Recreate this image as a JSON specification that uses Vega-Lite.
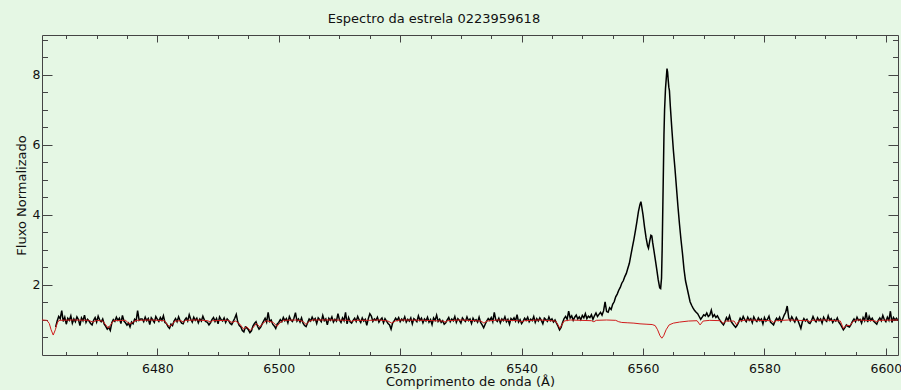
{
  "$schema": "https://vega.github.io/schema/vega-lite/v6.json",
  "width": 856,
  "height": 320,
  "autosize": {"type": "none"},
  "padding": {"left": 42, "top": 35, "right": 3, "bottom": 35},
  "background": "#e5f7e4",
  "title": {"text": "Espectro da estrela 0223959618", "font": "DejaVu Sans", "fontSize": 13, "fontWeight": "normal", "color": "#111111", "offset": 9, "dx": -36},
  "config": {"view": {"stroke": "#444444", "strokeWidth": 1, "fill": "#e5f7e4"}},
  "datasets": {
    "obs": [
      {"w":6463.25,"f":0.80},{"w":6463.5,"f":0.97},{"w":6463.75,"f":1.10},{"w":6464.0,"f":1.04},{"w":6464.25,"f":1.27},{"w":6464.5,"f":0.96},{"w":6464.75,"f":1.08},{"w":6465.0,"f":0.88},{"w":6465.25,"f":1.05},{"w":6465.5,"f":0.99},{"w":6465.75,"f":1.12},{"w":6466.0,"f":0.91},{"w":6466.25,"f":1.03},{"w":6466.5,"f":0.95},{"w":6466.75,"f":1.09},{"w":6467.0,"f":1.01},{"w":6467.25,"f":0.84},{"w":6467.5,"f":1.06},{"w":6467.75,"f":0.98},{"w":6468.0,"f":1.14},
      {"w":6468.25,"f":0.93},{"w":6468.5,"f":1.02},{"w":6468.75,"f":0.97},{"w":6469.0,"f":0.90},{"w":6469.25,"f":0.86},{"w":6469.5,"f":0.99},{"w":6469.75,"f":1.07},{"w":6470.0,"f":0.94},{"w":6470.25,"f":1.11},{"w":6470.5,"f":1.00},{"w":6470.75,"f":0.95},{"w":6471.0,"f":1.03},{"w":6471.25,"f":0.88},{"w":6471.5,"f":0.82},{"w":6471.75,"f":0.74},{"w":6472.0,"f":0.79},{"w":6472.25,"f":0.70},{"w":6472.5,"f":0.92},{"w":6472.75,"f":1.01},{"w":6473.0,"f":0.96},
      {"w":6473.25,"f":1.08},{"w":6473.5,"f":0.99},{"w":6473.75,"f":1.05},{"w":6474.0,"f":0.90},{"w":6474.25,"f":1.13},{"w":6474.5,"f":0.97},{"w":6474.75,"f":0.92},{"w":6475.0,"f":0.85},{"w":6475.25,"f":0.91},{"w":6475.5,"f":0.80},{"w":6475.75,"f":0.94},{"w":6476.0,"f":0.89},{"w":6476.25,"f":1.02},{"w":6476.5,"f":0.97},{"w":6476.75,"f":1.27},{"w":6477.0,"f":0.99},{"w":6477.25,"f":1.03},{"w":6477.5,"f":1.03},{"w":6477.75,"f":0.95},{"w":6478.0,"f":1.08},
      {"w":6478.25,"f":0.98},{"w":6478.5,"f":1.04},{"w":6478.75,"f":0.87},{"w":6479.0,"f":1.06},{"w":6479.25,"f":1.00},{"w":6479.5,"f":0.93},{"w":6479.75,"f":1.10},{"w":6480.0,"f":1.02},{"w":6480.25,"f":0.96},{"w":6480.5,"f":1.07},{"w":6480.75,"f":0.99},{"w":6481.0,"f":1.12},{"w":6481.25,"f":0.93},{"w":6481.5,"f":0.90},{"w":6481.75,"f":0.81},{"w":6482.0,"f":0.76},{"w":6482.25,"f":0.88},{"w":6482.5,"f":0.84},{"w":6482.75,"f":0.97},{"w":6483.0,"f":1.04},
      {"w":6483.25,"f":0.95},{"w":6483.5,"f":1.09},{"w":6483.75,"f":0.98},{"w":6484.0,"f":0.91},{"w":6484.25,"f":0.89},{"w":6484.5,"f":1.00},{"w":6484.75,"f":1.06},{"w":6485.0,"f":0.97},{"w":6485.25,"f":1.15},{"w":6485.5,"f":1.02},{"w":6485.75,"f":0.94},{"w":6486.0,"f":1.08},{"w":6486.25,"f":0.99},{"w":6486.5,"f":1.05},{"w":6486.75,"f":0.92},{"w":6487.0,"f":1.03},{"w":6487.25,"f":0.97},{"w":6487.5,"f":1.11},{"w":6487.75,"f":1.00},{"w":6488.0,"f":0.95},
      {"w":6488.25,"f":0.93},{"w":6488.5,"f":0.86},{"w":6488.75,"f":0.92},{"w":6489.0,"f":1.01},{"w":6489.25,"f":1.07},{"w":6489.5,"f":0.96},{"w":6489.75,"f":1.04},{"w":6490.0,"f":0.89},{"w":6490.25,"f":1.09},{"w":6490.5,"f":1.01},{"w":6490.75,"f":0.97},{"w":6491.0,"f":1.06},{"w":6491.25,"f":0.93},{"w":6491.5,"f":1.03},{"w":6491.75,"f":0.98},{"w":6492.0,"f":0.90},{"w":6492.25,"f":0.87},{"w":6492.5,"f":0.96},{"w":6492.75,"f":1.05},{"w":6493.0,"f":1.16},
      {"w":6493.25,"f":0.94},{"w":6493.5,"f":0.84},{"w":6493.75,"f":0.80},{"w":6494.0,"f":0.70},{"w":6494.25,"f":0.66},{"w":6494.5,"f":0.80},{"w":6494.75,"f":0.77},{"w":6495.0,"f":0.72},{"w":6495.25,"f":0.64},{"w":6495.5,"f":0.69},{"w":6495.75,"f":0.83},{"w":6496.0,"f":0.90},{"w":6496.25,"f":0.95},{"w":6496.5,"f":0.82},{"w":6496.75,"f":0.74},{"w":6497.0,"f":0.79},{"w":6497.25,"f":0.88},{"w":6497.5,"f":0.97},{"w":6497.75,"f":1.05},{"w":6498.0,"f":0.94},
      {"w":6498.25,"f":1.22},{"w":6498.5,"f":0.96},{"w":6498.75,"f":1.00},{"w":6499.0,"f":0.88},{"w":6499.25,"f":0.83},{"w":6499.5,"f":0.76},{"w":6499.75,"f":0.89},{"w":6500.0,"f":0.93},{"w":6500.25,"f":1.01},{"w":6500.5,"f":0.95},{"w":6500.75,"f":1.07},{"w":6501.0,"f":0.98},{"w":6501.25,"f":1.04},{"w":6501.5,"f":0.92},{"w":6501.75,"f":1.10},{"w":6502.0,"f":1.00},{"w":6502.25,"f":0.96},{"w":6502.5,"f":1.05},{"w":6502.75,"f":1.21},{"w":6503.0,"f":0.97},
      {"w":6503.25,"f":1.03},{"w":6503.5,"f":0.94},{"w":6503.75,"f":1.06},{"w":6504.0,"f":0.91},{"w":6504.25,"f":0.84},{"w":6504.5,"f":0.81},{"w":6504.75,"f":0.92},{"w":6505.0,"f":1.03},{"w":6505.25,"f":0.97},{"w":6505.5,"f":1.08},{"w":6505.75,"f":0.99},{"w":6506.0,"f":1.04},{"w":6506.25,"f":0.90},{"w":6506.5,"f":1.06},{"w":6506.75,"f":1.01},{"w":6507.0,"f":0.95},{"w":6507.25,"f":1.13},{"w":6507.5,"f":0.98},{"w":6507.75,"f":1.03},{"w":6508.0,"f":0.86},
      {"w":6508.25,"f":1.05},{"w":6508.5,"f":0.99},{"w":6508.75,"f":1.09},{"w":6509.0,"f":0.94},{"w":6509.25,"f":1.02},{"w":6509.5,"f":0.97},{"w":6509.75,"f":1.18},{"w":6510.0,"f":1.00},{"w":6510.25,"f":0.93},{"w":6510.5,"f":1.06},{"w":6510.75,"f":0.98},{"w":6511.0,"f":1.22},{"w":6511.25,"f":0.89},{"w":6511.5,"f":1.07},{"w":6511.75,"f":0.95},{"w":6512.0,"f":0.91},{"w":6512.25,"f":0.99},{"w":6512.5,"f":1.05},{"w":6512.75,"f":0.96},{"w":6513.0,"f":1.10},
      {"w":6513.25,"f":1.00},{"w":6513.5,"f":0.93},{"w":6513.75,"f":1.06},{"w":6514.0,"f":0.97},{"w":6514.25,"f":1.02},{"w":6514.5,"f":0.85},{"w":6514.75,"f":1.04},{"w":6515.0,"f":1.18},{"w":6515.25,"f":1.11},{"w":6515.5,"f":0.96},{"w":6515.75,"f":1.03},{"w":6516.0,"f":0.99},{"w":6516.25,"f":1.08},{"w":6516.5,"f":0.94},{"w":6516.75,"f":1.01},{"w":6517.0,"f":1.06},{"w":6517.25,"f":0.92},{"w":6517.5,"f":1.04},{"w":6517.75,"f":0.97},{"w":6518.0,"f":0.90},
      {"w":6518.25,"f":0.86},{"w":6518.5,"f":0.74},{"w":6518.75,"f":0.91},{"w":6519.0,"f":0.97},{"w":6519.25,"f":1.05},{"w":6519.5,"f":0.99},{"w":6519.75,"f":1.07},{"w":6520.0,"f":0.95},{"w":6520.25,"f":1.03},{"w":6520.5,"f":0.98},{"w":6520.75,"f":1.09},{"w":6521.0,"f":0.94},{"w":6521.25,"f":1.02},{"w":6521.5,"f":0.97},{"w":6521.75,"f":1.06},{"w":6522.0,"f":0.89},{"w":6522.25,"f":1.04},{"w":6522.5,"f":1.00},{"w":6522.75,"f":0.95},{"w":6523.0,"f":1.12},
      {"w":6523.25,"f":0.99},{"w":6523.5,"f":1.05},{"w":6523.75,"f":0.92},{"w":6524.0,"f":1.03},{"w":6524.25,"f":0.97},{"w":6524.5,"f":1.08},{"w":6524.75,"f":0.94},{"w":6525.0,"f":1.01},{"w":6525.25,"f":0.87},{"w":6525.5,"f":1.06},{"w":6525.75,"f":0.99},{"w":6526.0,"f":1.14},{"w":6526.25,"f":0.96},{"w":6526.5,"f":1.02},{"w":6526.75,"f":0.93},{"w":6527.0,"f":0.98},{"w":6527.25,"f":0.88},{"w":6527.5,"f":0.92},{"w":6527.75,"f":1.00},{"w":6528.0,"f":1.07},
      {"w":6528.25,"f":0.95},{"w":6528.5,"f":1.03},{"w":6528.75,"f":0.98},{"w":6529.0,"f":1.10},{"w":6529.25,"f":0.93},{"w":6529.5,"f":1.04},{"w":6529.75,"f":0.99},{"w":6530.0,"f":0.91},{"w":6530.25,"f":1.06},{"w":6530.5,"f":1.00},{"w":6530.75,"f":0.96},{"w":6531.0,"f":1.09},{"w":6531.25,"f":0.98},{"w":6531.5,"f":1.03},{"w":6531.75,"f":0.90},{"w":6532.0,"f":1.05},{"w":6532.25,"f":0.97},{"w":6532.5,"f":1.01},{"w":6532.75,"f":0.94},{"w":6533.0,"f":1.08},
      {"w":6533.25,"f":0.93},{"w":6533.5,"f":0.86},{"w":6533.75,"f":0.78},{"w":6534.0,"f":0.88},{"w":6534.25,"f":0.97},{"w":6534.5,"f":1.04},{"w":6534.75,"f":0.99},{"w":6535.0,"f":1.07},{"w":6535.25,"f":0.95},{"w":6535.5,"f":1.22},{"w":6535.75,"f":1.00},{"w":6536.0,"f":0.96},{"w":6536.25,"f":1.05},{"w":6536.5,"f":0.92},{"w":6536.75,"f":1.03},{"w":6537.0,"f":0.98},{"w":6537.25,"f":1.09},{"w":6537.5,"f":0.95},{"w":6537.75,"f":1.02},{"w":6538.0,"f":0.88},
      {"w":6538.25,"f":1.04},{"w":6538.5,"f":0.99},{"w":6538.75,"f":1.06},{"w":6539.0,"f":0.97},{"w":6539.25,"f":1.15},{"w":6539.5,"f":0.94},{"w":6539.75,"f":1.01},{"w":6540.0,"f":0.90},{"w":6540.25,"f":0.97},{"w":6540.5,"f":1.05},{"w":6540.75,"f":0.99},{"w":6541.0,"f":1.08},{"w":6541.25,"f":0.95},{"w":6541.5,"f":1.02},{"w":6541.75,"f":0.98},{"w":6542.0,"f":1.10},{"w":6542.25,"f":0.93},{"w":6542.5,"f":1.04},{"w":6542.75,"f":0.97},{"w":6543.0,"f":1.06},
      {"w":6543.25,"f":0.99},{"w":6543.5,"f":0.89},{"w":6543.75,"f":1.05},{"w":6544.0,"f":1.01},{"w":6544.25,"f":0.96},{"w":6544.5,"f":1.09},{"w":6544.75,"f":0.98},{"w":6545.0,"f":1.03},{"w":6545.25,"f":0.94},{"w":6545.5,"f":1.00},{"w":6545.75,"f":0.91},{"w":6546.0,"f":0.82},{"w":6546.25,"f":0.72},{"w":6546.5,"f":0.79},{"w":6546.75,"f":0.93},{"w":6547.0,"f":1.04},{"w":6547.25,"f":1.10},{"w":6547.5,"f":1.02},{"w":6547.75,"f":1.25},{"w":6548.0,"f":1.06},
      {"w":6548.25,"f":1.12},{"w":6548.5,"f":0.99},{"w":6548.75,"f":1.08},{"w":6549.0,"f":1.14},{"w":6549.25,"f":1.03},{"w":6549.5,"f":1.09},{"w":6549.75,"f":1.01},{"w":6550.0,"f":1.13},{"w":6550.25,"f":1.06},{"w":6550.5,"f":1.18},{"w":6550.75,"f":1.04},{"w":6551.0,"f":1.11},{"w":6551.25,"f":1.07},{"w":6551.5,"f":1.15},{"w":6551.75,"f":1.02},{"w":6552.0,"f":1.12},{"w":6552.25,"f":1.20},{"w":6552.5,"f":1.10},{"w":6552.75,"f":1.16},{"w":6553.0,"f":1.22},
      {"w":6553.25,"f":1.14},{"w":6553.5,"f":1.26},{"w":6553.75,"f":1.52},{"w":6554.0,"f":1.24},{"w":6554.25,"f":1.22},{"w":6554.5,"f":1.35},{"w":6554.75,"f":1.30},{"w":6555.0,"f":1.45},{"w":6555.25,"f":1.52},{"w":6555.5,"f":1.66},{"w":6555.75,"f":1.74},{"w":6556.0,"f":1.85},{"w":6556.25,"f":1.93},{"w":6556.5,"f":2.05},{"w":6556.75,"f":2.12},{"w":6557.0,"f":2.24},{"w":6557.25,"f":2.33},{"w":6557.5,"f":2.48},{"w":6557.75,"f":2.62},{"w":6558.0,"f":2.85},
      {"w":6558.25,"f":3.08},{"w":6558.5,"f":3.30},{"w":6558.75,"f":3.55},{"w":6559.0,"f":3.82},{"w":6559.25,"f":4.10},{"w":6559.5,"f":4.30},{"w":6559.65,"f":4.38},{"w":6559.75,"f":4.28},{"w":6560.0,"f":4.00},{"w":6560.25,"f":3.65},{"w":6560.5,"f":3.35},{"w":6560.75,"f":3.12},{"w":6560.9,"f":3.05},{"w":6561.1,"f":3.25},{"w":6561.3,"f":3.42},{"w":6561.45,"f":3.40},{"w":6561.6,"f":3.20},{"w":6561.8,"f":2.98},{"w":6562.0,"f":2.75},{"w":6562.25,"f":2.46},
      {"w":6562.5,"f":2.15},{"w":6562.75,"f":1.92},{"w":6562.9,"f":1.90},{"w":6563.05,"f":2.20},{"w":6563.15,"f":3.00},{"w":6563.25,"f":4.10},{"w":6563.35,"f":5.20},{"w":6563.45,"f":6.30},{"w":6563.55,"f":7.00},{"w":6563.7,"f":7.60},{"w":6563.85,"f":7.95},{"w":6563.95,"f":8.18},{"w":6564.05,"f":8.08},{"w":6564.15,"f":7.85},{"w":6564.25,"f":7.65},{"w":6564.35,"f":7.55},{"w":6564.5,"f":7.10},{"w":6564.75,"f":6.45},{"w":6565.0,"f":5.85},{"w":6565.25,"f":5.35},
      {"w":6565.5,"f":4.80},{"w":6565.75,"f":4.25},{"w":6566.0,"f":3.75},{"w":6566.25,"f":3.30},{"w":6566.5,"f":2.90},{"w":6566.75,"f":2.45},{"w":6567.0,"f":2.12},{"w":6567.25,"f":1.92},{"w":6567.5,"f":1.72},{"w":6567.75,"f":1.52},{"w":6568.0,"f":1.42},{"w":6568.25,"f":1.34},{"w":6568.5,"f":1.27},{"w":6568.75,"f":1.22},{"w":6569.0,"f":1.18},{"w":6569.25,"f":1.10},{"w":6569.5,"f":1.02},{"w":6569.75,"f":1.08},{"w":6570.0,"f":1.15},{"w":6570.25,"f":1.12},
      {"w":6570.5,"f":1.20},{"w":6570.75,"f":1.10},{"w":6571.0,"f":1.14},{"w":6571.25,"f":1.28},{"w":6571.5,"f":1.09},{"w":6571.75,"f":1.15},{"w":6572.0,"f":1.07},{"w":6572.25,"f":1.12},{"w":6572.5,"f":1.04},{"w":6572.75,"f":0.97},{"w":6573.0,"f":0.91},{"w":6573.25,"f":0.86},{"w":6573.5,"f":0.95},{"w":6573.75,"f":1.07},{"w":6574.0,"f":0.99},{"w":6574.25,"f":1.12},{"w":6574.5,"f":0.96},{"w":6574.75,"f":0.90},{"w":6575.0,"f":0.84},{"w":6575.25,"f":0.79},
      {"w":6575.5,"f":0.85},{"w":6575.75,"f":0.94},{"w":6576.0,"f":1.05},{"w":6576.25,"f":0.98},{"w":6576.5,"f":1.10},{"w":6576.75,"f":1.01},{"w":6577.0,"f":0.95},{"w":6577.25,"f":1.08},{"w":6577.5,"f":0.99},{"w":6577.75,"f":1.04},{"w":6578.0,"f":0.92},{"w":6578.25,"f":1.09},{"w":6578.5,"f":1.00},{"w":6578.75,"f":0.96},{"w":6579.0,"f":1.06},{"w":6579.25,"f":0.98},{"w":6579.5,"f":1.03},{"w":6579.75,"f":0.89},{"w":6580.0,"f":1.07},{"w":6580.25,"f":0.97},
      {"w":6580.5,"f":1.02},{"w":6580.75,"f":1.11},{"w":6581.0,"f":0.94},{"w":6581.25,"f":0.90},{"w":6581.5,"f":0.86},{"w":6581.75,"f":0.97},{"w":6582.0,"f":1.05},{"w":6582.25,"f":0.99},{"w":6582.5,"f":1.08},{"w":6582.75,"f":0.95},{"w":6583.0,"f":1.03},{"w":6583.25,"f":1.14},{"w":6583.5,"f":1.22},{"w":6583.75,"f":1.40},{"w":6584.0,"f":1.06},{"w":6584.25,"f":0.98},{"w":6584.5,"f":1.09},{"w":6584.75,"f":1.01},{"w":6585.0,"f":0.94},{"w":6585.25,"f":1.07},
      {"w":6585.5,"f":0.99},{"w":6585.75,"f":0.88},{"w":6586.0,"f":0.76},{"w":6586.25,"f":0.95},{"w":6586.5,"f":1.04},{"w":6586.75,"f":0.97},{"w":6587.0,"f":1.02},{"w":6587.25,"f":0.92},{"w":6587.5,"f":0.90},{"w":6587.75,"f":0.98},{"w":6588.0,"f":1.10},{"w":6588.25,"f":1.00},{"w":6588.5,"f":0.95},{"w":6588.75,"f":1.06},{"w":6589.0,"f":0.98},{"w":6589.25,"f":1.03},{"w":6589.5,"f":0.91},{"w":6589.75,"f":1.08},{"w":6590.0,"f":1.00},{"w":6590.25,"f":0.96},
      {"w":6590.5,"f":1.12},{"w":6590.75,"f":0.99},{"w":6591.0,"f":1.04},{"w":6591.25,"f":0.93},{"w":6591.5,"f":1.01},{"w":6591.75,"f":0.97},{"w":6592.0,"f":1.06},{"w":6592.25,"f":0.94},{"w":6592.5,"f":0.88},{"w":6592.75,"f":0.80},{"w":6593.0,"f":0.72},{"w":6593.25,"f":0.78},{"w":6593.5,"f":0.86},{"w":6593.75,"f":0.82},{"w":6594.0,"f":0.80},{"w":6594.25,"f":0.87},{"w":6594.5,"f":0.96},{"w":6594.75,"f":1.03},{"w":6595.0,"f":0.95},{"w":6595.25,"f":1.08},
      {"w":6595.5,"f":0.99},{"w":6595.75,"f":1.02},{"w":6596.0,"f":0.91},{"w":6596.25,"f":1.07},{"w":6596.5,"f":0.98},{"w":6596.75,"f":1.22},{"w":6597.0,"f":0.94},{"w":6597.25,"f":1.10},{"w":6597.5,"f":0.99},{"w":6597.75,"f":1.05},{"w":6598.0,"f":0.96},{"w":6598.25,"f":0.92},{"w":6598.5,"f":0.88},{"w":6598.75,"f":0.99},{"w":6599.0,"f":1.06},{"w":6599.25,"f":0.98},{"w":6599.5,"f":1.13},{"w":6599.75,"f":1.01},{"w":6600.0,"f":0.95},{"w":6600.25,"f":1.08},
      {"w":6600.5,"f":0.99},{"w":6600.75,"f":1.25},{"w":6601.0,"f":0.93},{"w":6601.25,"f":1.07},{"w":6601.5,"f":1.00},{"w":6601.75,"f":1.05},{"w":6602.0,"f":0.98}
    ],
    "model": [
      {"w":6461.0,"f":1.0},{"w":6461.8,"f":0.99},{"w":6462.2,"f":0.9},{"w":6462.5,"f":0.72},{"w":6462.85,"f":0.57},{"w":6463.2,"f":0.72},{"w":6463.5,"f":0.91},{"w":6463.8,"f":0.99},{"w":6466.0,"f":1.0},{"w":6468.7,"f":0.99},{"w":6469.35,"f":0.94},{"w":6470.0,"f":0.99},{"w":6471.0,"f":0.97},{"w":6471.5,"f":0.86},{"w":6471.9,"f":0.77},{"w":6472.3,"f":0.86},{"w":6472.8,"f":0.98},{"w":6474.8,"f":0.99},{"w":6475.1,"f":0.93},{"w":6475.5,"f":0.89},{"w":6475.9,"f":0.93},{"w":6476.5,"f":0.99},{"w":6479.0,"f":1.0},
      {"w":6481.2,"f":0.98},{"w":6481.6,"f":0.87},{"w":6482.0,"f":0.82},{"w":6482.4,"f":0.86},{"w":6482.9,"f":0.97},{"w":6483.9,"f":0.98},{"w":6484.3,"f":0.94},{"w":6484.7,"f":0.99},{"w":6486.5,"f":1.0},{"w":6488.3,"f":0.98},{"w":6488.7,"f":0.94},{"w":6489.1,"f":0.98},{"w":6491.6,"f":0.99},{"w":6492.3,"f":0.93},{"w":6492.9,"f":0.97},{"w":6493.6,"f":0.88},{"w":6494.2,"f":0.74},{"w":6494.7,"f":0.81},{"w":6495.3,"f":0.70},{"w":6495.8,"f":0.79},{"w":6496.3,"f":0.90},{"w":6496.9,"f":0.80},{"w":6497.4,"f":0.91},{"w":6498.0,"f":0.98},{"w":6499.1,"f":0.93},{"w":6499.7,"f":0.82},{"w":6500.2,"f":0.92},{"w":6500.8,"f":0.99},
      {"w":6503.0,"f":1.0},{"w":6504.0,"f":0.96},{"w":6504.5,"f":0.87},{"w":6505.0,"f":0.96},{"w":6505.6,"f":1.0},{"w":6509.0,"f":1.0},{"w":6511.6,"f":0.99},{"w":6512.0,"f":0.96},{"w":6512.4,"f":0.99},{"w":6515.0,"f":0.99},{"w":6516.5,"f":1.0},{"w":6518.0,"f":0.97},{"w":6518.6,"f":0.91},{"w":6519.2,"f":0.97},{"w":6520.0,"f":1.0},{"w":6524.0,"f":0.99},{"w":6527.0,"f":0.97},{"w":6527.4,"f":0.94},{"w":6527.8,"f":0.98},{"w":6530.0,"f":1.0},{"w":6533.3,"f":0.97},{"w":6533.8,"f":0.91},{"w":6534.3,"f":0.97},{"w":6536.0,"f":1.0},{"w":6539.5,"f":0.98},{"w":6540.0,"f":0.95},{"w":6540.5,"f":0.98},
      {"w":6543.0,"f":1.0},{"w":6545.6,"f":0.97},{"w":6546.0,"f":0.86},{"w":6546.3,"f":0.76},{"w":6546.6,"f":0.85},{"w":6547.0,"f":0.97},{"w":6548.0,"f":1.0},{"w":6551.5,"f":0.98},{"w":6551.9,"f":0.95},{"w":6552.3,"f":0.99},{"w":6554.0,"f":1.0},{"w":6555.5,"f":0.99},{"w":6556.0,"f":0.95},{"w":6556.5,"f":0.93},{"w":6557.5,"f":0.92},{"w":6558.5,"f":0.91},{"w":6559.5,"f":0.89},{"w":6560.5,"f":0.88},{"w":6561.5,"f":0.87},{"w":6562.0,"f":0.84},{"w":6562.4,"f":0.72},{"w":6562.8,"f":0.55},{"w":6563.1,"f":0.48},{"w":6563.4,"f":0.55},{"w":6563.8,"f":0.72},{"w":6564.3,"f":0.86},{"w":6565.0,"f":0.91},{"w":6566.0,"f":0.94},{"w":6567.5,"f":0.97},
      {"w":6568.9,"f":0.98},{"w":6569.4,"f":0.86},{"w":6569.9,"f":0.97},{"w":6571.0,"f":0.99},{"w":6572.8,"f":0.98},{"w":6573.2,"f":0.90},{"w":6573.6,"f":0.97},{"w":6575.0,"f":0.97},{"w":6575.4,"f":0.86},{"w":6575.8,"f":0.97},{"w":6577.0,"f":1.0},{"w":6581.1,"f":0.98},{"w":6581.5,"f":0.93},{"w":6581.9,"f":0.98},{"w":6584.0,"f":1.0},{"w":6587.2,"f":0.98},{"w":6587.5,"f":0.95},{"w":6587.8,"f":0.99},{"w":6590.0,"f":1.0},{"w":6592.5,"f":0.97},{"w":6593.0,"f":0.76},{"w":6593.5,"f":0.85},{"w":6594.1,"f":0.84},{"w":6594.6,"f":0.96},{"w":6595.2,"f":1.0},{"w":6598.1,"f":0.98},{"w":6598.5,"f":0.95},{"w":6598.9,"f":0.99},{"w":6602.0,"f":1.0}
    ]
  },
  "resolve": {"axis": {"x": "independent", "y": "independent"}},
  "layer": [
    {
      "data": {"name": "obs"},
      "mark": {"type": "line", "color": "#000000", "strokeWidth": 1.5, "clip": true},
      "encoding": {
        "x": {"field": "w", "type": "quantitative", "scale": {"domain": [6461, 6602], "nice": false, "zero": false},
          "axis": {"orient": "bottom", "values": [6480, 6500, 6520, 6540, 6560, 6580, 6600], "format": "d", "tickSize": -7, "tickColor": "#444444", "labelPadding": 14, "labelFlush": false, "labelBound": false, "labelOverlap": false, "labelFont": "DejaVu Sans", "labelFontSize": 12.5, "labelColor": "#111111", "domain": false, "grid": false, "title": "Comprimento de onda (Å)", "titleFont": "DejaVu Sans", "titleFontSize": 13, "titleFontWeight": "normal", "titleColor": "#111111", "titlePadding": 1}},
        "y": {"field": "f", "type": "quantitative", "scale": {"domain": [0, 9.14], "nice": false, "zero": false},
          "axis": {"orient": "left", "values": [2, 4, 6, 8], "tickSize": -10, "tickColor": "#444444", "labelPadding": 12, "labelFlush": false, "labelBound": false, "labelOverlap": false, "labelFont": "DejaVu Sans", "labelFontSize": 12.5, "labelColor": "#111111", "domain": false, "grid": false, "title": "Fluxo Normalizado", "titleFont": "DejaVu Sans", "titleFontSize": 13, "titleFontWeight": "normal", "titleColor": "#111111", "titlePadding": 4}}
      }
    },
    {
      "data": {"name": "model"},
      "mark": {"type": "line", "color": "#d01c1c", "strokeWidth": 1, "clip": true},
      "encoding": {
        "x": {"field": "w", "type": "quantitative", "scale": {"domain": [6461, 6602], "nice": false, "zero": false},
          "axis": {"orient": "bottom", "values": [6465, 6470, 6475, 6485, 6490, 6495, 6505, 6510, 6515, 6525, 6530, 6535, 6545, 6550, 6555, 6565, 6570, 6575, 6585, 6590, 6595], "tickSize": -3.5, "tickColor": "#444444", "labels": false, "domain": false, "grid": false, "title": null}},
        "y": {"field": "f", "type": "quantitative", "scale": {"domain": [0, 9.14], "nice": false, "zero": false},
          "axis": {"orient": "left", "values": [0.5, 1, 1.5, 2.5, 3, 3.5, 4.5, 5, 5.5, 6.5, 7, 7.5, 8.5, 9], "tickSize": -5.5, "tickColor": "#444444", "labels": false, "domain": false, "grid": false, "title": null}}
      }
    },
    {
      "data": {"name": "model"},
      "mark": {"type": "line", "opacity": 0, "clip": true},
      "encoding": {
        "x": {"field": "w", "type": "quantitative", "scale": {"domain": [6461, 6602], "nice": false, "zero": false},
          "axis": {"orient": "top", "values": [6480, 6500, 6520, 6540, 6560, 6580, 6600], "tickSize": -7, "tickColor": "#444444", "labels": false, "domain": false, "grid": false, "title": null}},
        "y": {"field": "f", "type": "quantitative", "scale": {"domain": [0, 9.14], "nice": false, "zero": false},
          "axis": {"orient": "right", "values": [2, 4, 6, 8], "tickSize": -10, "tickColor": "#444444", "labels": false, "domain": false, "grid": false, "title": null}}
      }
    },
    {
      "data": {"name": "model"},
      "mark": {"type": "line", "opacity": 0, "clip": true},
      "encoding": {
        "x": {"field": "w", "type": "quantitative", "scale": {"domain": [6461, 6602], "nice": false, "zero": false},
          "axis": {"orient": "top", "values": [6465, 6470, 6475, 6485, 6490, 6495, 6505, 6510, 6515, 6525, 6530, 6535, 6545, 6550, 6555, 6565, 6570, 6575, 6585, 6590, 6595], "tickSize": -3.5, "tickColor": "#444444", "labels": false, "domain": false, "grid": false, "title": null}},
        "y": {"field": "f", "type": "quantitative", "scale": {"domain": [0, 9.14], "nice": false, "zero": false},
          "axis": {"orient": "right", "values": [0.5, 1, 1.5, 2.5, 3, 3.5, 4.5, 5, 5.5, 6.5, 7, 7.5, 8.5, 9], "tickSize": -5.5, "tickColor": "#444444", "labels": false, "domain": false, "grid": false, "title": null}}
      }
    }
  ]
}
